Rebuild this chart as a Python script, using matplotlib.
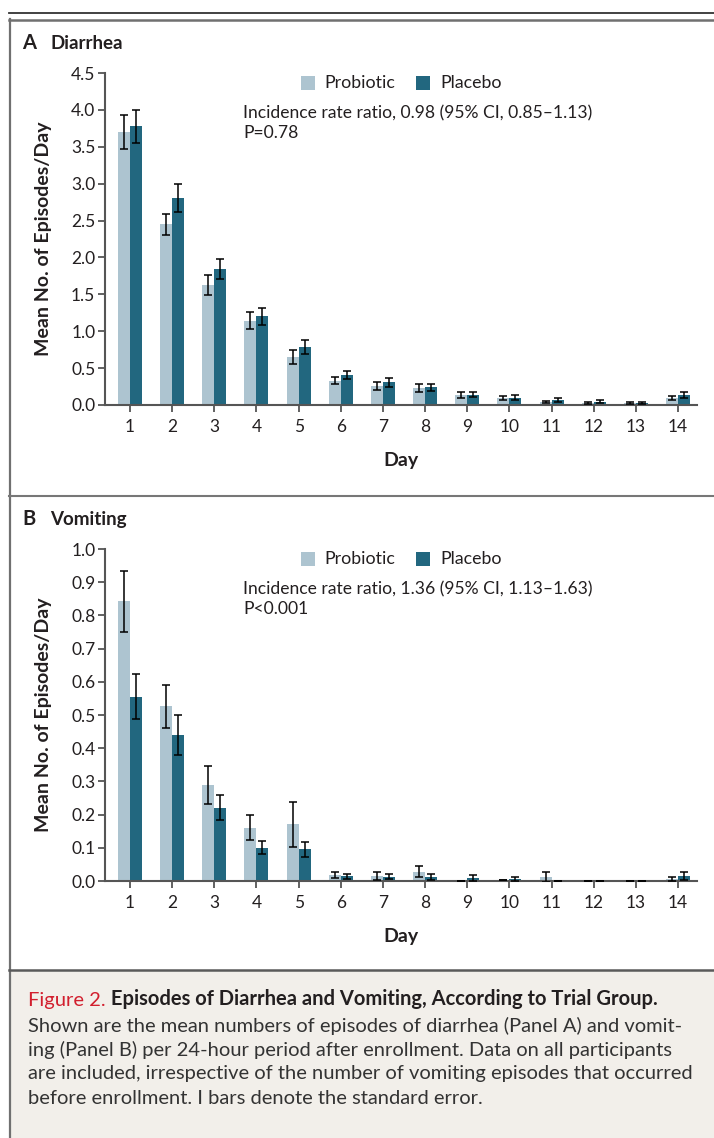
import matplotlib
matplotlib.use("Agg")
import matplotlib.pyplot as plt
from matplotlib.lines import Line2D
from matplotlib.patches import Rectangle
import numpy as np

plt.rcParams['font.family'] = ['Lato', 'DejaVu Sans']

days = list(range(1, 15))
series_names = ["Probiotic", "Placebo"]

# Panel A: Diarrhea
diarrhea_probiotic = [3.70, 2.45, 1.63, 1.14, 0.65, 0.33, 0.26, 0.23, 0.135, 0.095, 0.04, 0.03, 0.027, 0.095]
diarrhea_probiotic_se = [0.225, 0.145, 0.135, 0.115, 0.09, 0.05, 0.05, 0.055, 0.035, 0.03, 0.017, 0.015, 0.012, 0.026]
diarrhea_placebo = [3.78, 2.80, 1.84, 1.20, 0.79, 0.41, 0.31, 0.24, 0.14, 0.10, 0.068, 0.045, 0.03, 0.135]
diarrhea_placebo_se = [0.225, 0.19, 0.135, 0.11, 0.095, 0.055, 0.06, 0.05, 0.035, 0.03, 0.027, 0.018, 0.013, 0.045]

# Panel B: Vomiting
vomiting_probiotic = [0.842, 0.526, 0.290, 0.161, 0.171, 0.019, 0.015, 0.028, 0.0, 0.002, 0.012, 0.0, 0.0, 0.006]
vomiting_probiotic_se = [0.092, 0.064, 0.057, 0.039, 0.068, 0.0095, 0.012, 0.016, 0.0, 0.0, 0.014, 0.0, 0.0, 0.006]
vomiting_placebo = [0.555, 0.439, 0.221, 0.100, 0.095, 0.014, 0.013, 0.012, 0.008, 0.007, 0.0, 0.0, 0.0, 0.015]
vomiting_placebo_se = [0.067, 0.060, 0.037, 0.020, 0.022, 0.008, 0.007, 0.009, 0.009, 0.006, 0.0, 0.0, 0.0, 0.013]

yticks_a = [0.0, 0.5, 1.0, 1.5, 2.0, 2.5, 3.0, 3.5, 4.0, 4.5]
yticks_b = [0.0, 0.1, 0.2, 0.3, 0.4, 0.5, 0.6, 0.7, 0.8, 0.9, 1.0]

annot_a = ["Incidence rate ratio, 0.98 (95% CI, 0.85\u20131.13)", "P=0.78"]
annot_b = ["Incidence rate ratio, 1.36 (95% CI, 1.13\u20131.63)", "P<0.001"]

C_PRO = "#adc4d0"
C_PLA = "#22677f"
TXT = "#231f20"
AX = "#555555"

W, H = 714, 1138
fig = plt.figure(figsize=(W / 100, H / 100), dpi=100)

# background / frame axes
bg = fig.add_axes([0, 0, 1, 1])
bg.set_xlim(0, W)
bg.set_ylim(H, 0)
bg.axis("off")
bg.add_patch(Rectangle((10, 970), W - 10, H - 970, facecolor="#f2efea", edgecolor="none", zorder=0))
bg.add_line(Line2D([9, W], [13, 13], color="#333333", lw=1.3))
bg.add_line(Line2D([9, W], [19.5, 19.5], color="#707070", lw=1.8))
bg.add_line(Line2D([9.5, 9.5], [19, H], color="#707070", lw=1.6))
bg.add_line(Line2D([9, W], [495.5, 495.5], color="#777777", lw=1.5))
bg.add_line(Line2D([9, W], [969.5, 969.5], color="#5a5a5a", lw=1.8))


def panel(top_px, letter, title, pro, pro_se, pla, pla_se, yticks, ymax, fmt, annot):
    left, right, bottom = 105, 697, top_px + 332
    ax = fig.add_axes([left / W, 1 - bottom / H, (right - left) / W, 332 / H])
    x = np.array(days, dtype=float)
    bw = 0.285
    ax.bar(x - bw / 2, pro, width=bw, color=C_PRO, edgecolor="none", zorder=2)
    ax.bar(x + bw / 2, pla, width=bw, color=C_PLA, edgecolor="none", zorder=2)
    ax.errorbar(x - bw / 2, pro, yerr=pro_se, fmt="none", ecolor="black", elinewidth=1.1,
                capsize=2.6, capthick=1.1, zorder=3)
    ax.errorbar(x + bw / 2, pla, yerr=pla_se, fmt="none", ecolor="black", elinewidth=1.1,
                capsize=2.6, capthick=1.1, zorder=3)
    ax.set_xlim(0.407, 14.45)
    ax.set_ylim(0, ymax)
    ax.set_yticks(yticks)
    ax.set_yticklabels([fmt.format(v) for v in yticks])
    ax.set_xticks(days)
    ax.set_xticklabels([str(d) for d in days])
    for s in ["top", "right"]:
        ax.spines[s].set_visible(False)
    for s in ["left", "bottom"]:
        ax.spines[s].set_color(AX)
        ax.spines[s].set_linewidth(1.5)
    ax.tick_params(axis="both", direction="out", length=5, width=1.3, color=AX,
                   labelsize=12.5, labelcolor=TXT)
    ax.tick_params(axis="y", pad=2)
    ax.tick_params(axis="x", pad=5)
    ax.patch.set_alpha(0)
    # labels
    bg.text(22, top_px - 30, letter, fontsize=14.5, fontweight="bold", color=TXT, va="center", ha="left")
    bg.text(50, top_px - 30, title, fontsize=13.5, fontweight="bold", color=TXT, va="center", ha="left")
    bg.text(44, top_px + 166, "Mean No. of Episodes/Day", fontsize=14, fontweight="bold", color=TXT,
            rotation=90, va="center", ha="center")
    bg.text(401, top_px + 387, "Day", fontsize=14, fontweight="bold", color=TXT, va="center", ha="center")
    # legend
    ly = top_px + 10
    bg.add_patch(Rectangle((301, ly - 7), 14, 14, facecolor=C_PRO, edgecolor="none"))
    bg.text(324, ly, series_names[0], fontsize=12.8, color=TXT, va="center", ha="left")
    bg.add_patch(Rectangle((416, ly - 7), 14, 14, facecolor=C_PLA, edgecolor="none"))
    bg.text(440, ly, series_names[1], fontsize=12.8, color=TXT, va="center", ha="left")
    bg.text(243, top_px + 40, annot[0], fontsize=12.6, color=TXT, va="center", ha="left")
    bg.text(243, top_px + 60, annot[1], fontsize=12.6, color=TXT, va="center", ha="left")
    return ax


panel(73, "A", "Diarrhea", diarrhea_probiotic, diarrhea_probiotic_se, diarrhea_placebo,
      diarrhea_placebo_se, yticks_a, 4.5, "{:.1f}", annot_a)
panel(549, "B", "Vomiting", vomiting_probiotic, vomiting_probiotic_se, vomiting_placebo,
      vomiting_placebo_se, yticks_b, 1.0, "{:.1f}", annot_b)

# caption
t1 = bg.text(28, 1000, "Figure 2.", fontsize=14.5, color="#d21f2e", va="center", ha="left")
bg.annotate(" Episodes of Diarrhea and Vomiting, According to Trial Group.", xy=(1, 0),
            xycoords=t1, va="bottom", ha="left", fontsize=14.5, fontweight="bold", color=TXT)
caption_lines = [
    "Shown are the mean numbers of episodes of diarrhea (Panel A) and vomit-",
    "ing (Panel B) per 24-hour period after enrollment. Data on all participants",
    "are included, irrespective of the number of vomiting episodes that occurred",
    "before enrollment. I bars denote the standard error.",
]
for i, line in enumerate(caption_lines):
    bg.text(28, 1026 + 24 * i, line, fontsize=14.5, color="#333333", va="center", ha="left")

fig.savefig("out.png", dpi=100)
